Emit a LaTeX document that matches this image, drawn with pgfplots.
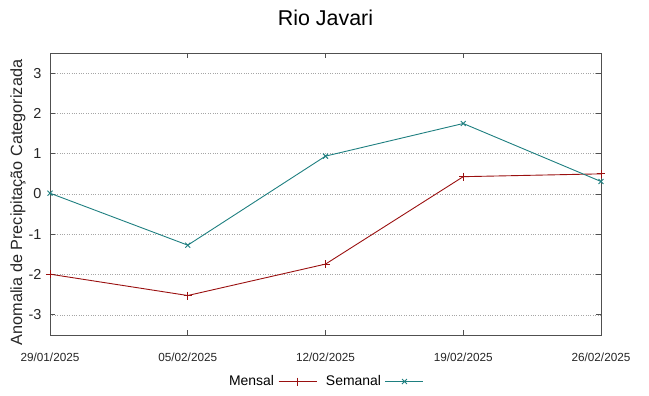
\documentclass[border=0pt]{standalone}
\usepackage{fontspec}
\setmainfont{Liberation Sans}
\usepackage{pgfplots}
\pgfplotsset{compat=1.18}
\definecolor{mensal}{HTML}{9A1010}
\definecolor{semanal}{HTML}{1E7F80}
\definecolor{axisgray}{HTML}{505050}
\begin{document}
\begin{tikzpicture}
\useasboundingbox (0,0) rectangle (649bp,396bp);
\begin{axis}[
  at={(50bp,61bp)}, anchor=south west,
  scale only axis, width=551bp, height=282bp,
  xmin=0, xmax=4, ymin=-3.5, ymax=3.5,
  xtick={0,1,2,3,4},
  xticklabels={29/01/2025,05/02/2025,12/02/2025,19/02/2025,26/02/2025},
  ytick={-3,-2,-1,0,1,2,3},
  yticklabels={-3,-2,-1,0,1,2,3},
  tick align=inside, tick pos=both,
  major tick length=5bp,
  axis line style={axisgray, line width=0.8pt},
  every tick/.style={axisgray, line width=0.8pt},
  ymajorgrids, grid style={gray!70, dotted, line width=0.6pt},
  /pgf/number format/assume math mode=true,
  xticklabel style={font=\fontsize{11.8}{12}\selectfont, text=black!85, yshift=-14bp},
  yticklabel style={font=\fontsize{14.5}{16}\selectfont, text=black!85, xshift=-5bp},
  ylabel={Anomalia de Precipitação Categorizada},
  ylabel style={at={(axis description cs:-0.058,0.47)}, anchor=center, font=\fontsize{16.3}{18}\selectfont, text=black!85},
  title={Rio Javari},
  title style={at={(axis description cs:0.5,1)}, anchor=center, yshift=29bp, font=\fontsize{21.5}{24}\selectfont},
  legend columns=2,
  legend plot pos=right,
  legend style={draw=none, fill=none, at={(axis description cs:0.5,-0.165)}, anchor=center,
    font=\fontsize{14}{16}\selectfont, /tikz/every even column/.append style={column sep=7bp},
    /tikz/every odd column/.append style={column sep=2bp}},
  legend image code/.code={\draw[#1, mark repeat=2, mark phase=2] plot coordinates {(0bp,0bp) (19bp,0bp) (38bp,0bp)};},
  clip=false,
]
\addplot[color=mensal, line width=0.9pt, mark=+, mark size=4bp] coordinates {
  (0,-1.99) (1,-2.52) (2,-1.74) (3,0.43) (4,0.50)
};
\addlegendentry{Mensal}
\addplot[color=semanal, line width=0.9pt, mark=x, mark size=3.5bp] coordinates {
  (0,0.02) (1,-1.27) (2,0.94) (3,1.75) (4,0.31)
};
\addlegendentry{Semanal}
\end{axis}
\end{tikzpicture}
\end{document}
